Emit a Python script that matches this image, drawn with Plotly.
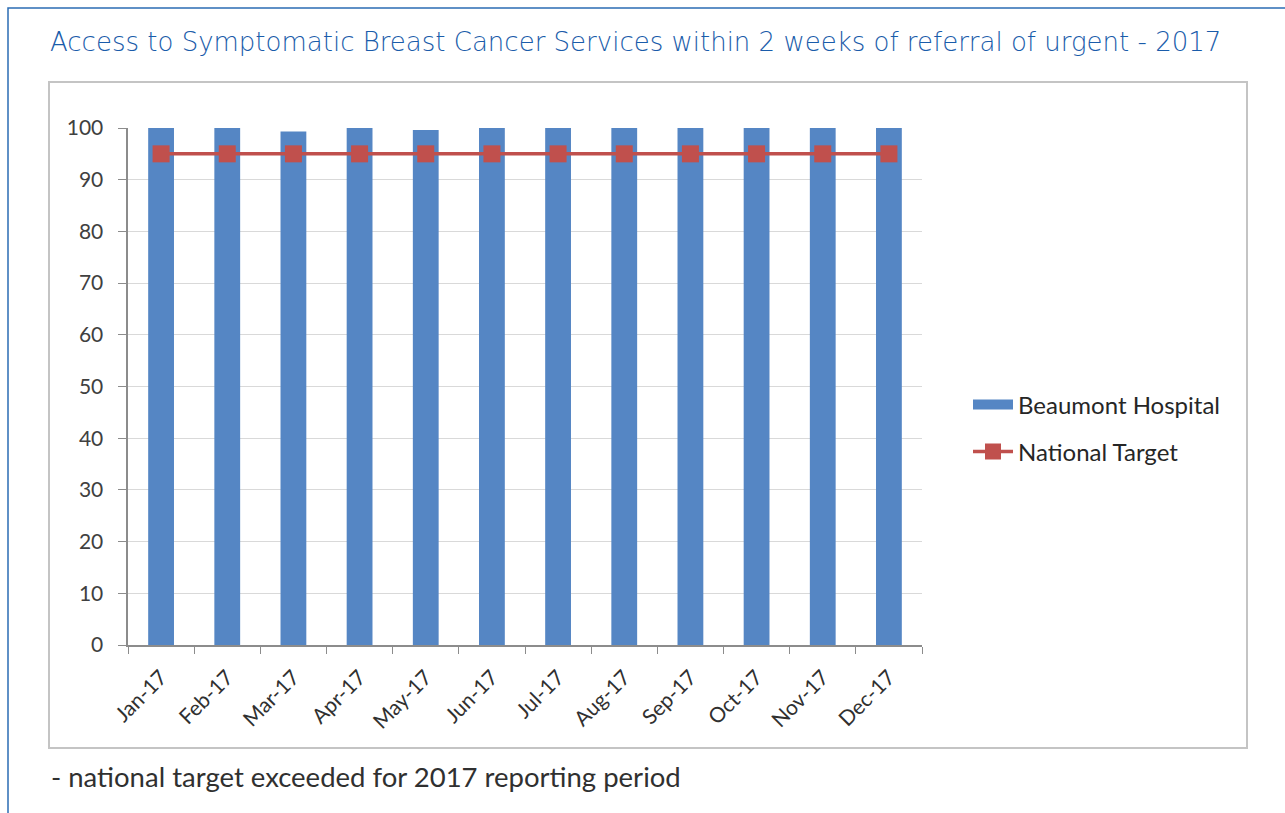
import plotly.graph_objects as go

months = ["Jan-17", "Feb-17", "Mar-17", "Apr-17", "May-17", "Jun-17",
          "Jul-17", "Aug-17", "Sep-17", "Oct-17", "Nov-17", "Dec-17"]
beaumont = [100, 100, 99.3, 100, 99.6, 100, 100, 100, 100, 100, 100, 100]
target = [95] * 12

W, H = 1285, 813
L, R, T, B = 128, 922, 128, 645  # plot area pixel edges
BLUE = "#5586c4"
RED = "#c0504d"


def px(x):
    return (x - L) / (R - L)


def py(y):
    return (B - y) / (B - T)


fig = go.Figure()
fig.add_trace(go.Bar(x=months, y=beaumont, name="Beaumont Hospital", showlegend=False,
                     marker=dict(color=BLUE, line=dict(width=0)), width=0.39))
# legend proxy for the bars (wide rectangle swatch)
fig.add_trace(go.Scatter(x=[None], y=[None], mode="lines", name="Beaumont Hospital",
                         line=dict(color=BLUE, width=13), legend="legend"))
fig.add_trace(go.Scatter(x=months, y=target, name="National Target", mode="lines+markers",
                         line=dict(color=RED, width=3.5), legend="legend2",
                         marker=dict(symbol="square", size=17, color=RED)))

legend_common = dict(xanchor="left", yanchor="middle",
                     font=dict(size=24, color="#262626", family="Lato, sans-serif"),
                     bgcolor="rgba(0,0,0,0)", itemwidth=40)

fig.update_layout(
    width=W, height=H,
    margin=dict(l=L, r=W - R, t=T, b=H - B, pad=0),
    paper_bgcolor="white", plot_bgcolor="white",
    font=dict(family="Lato, Open Sans, sans-serif", color="#404040"),
    showlegend=True,
    legend=dict(x=px(968), y=py(405), **legend_common),
    legend2=dict(x=px(968), y=py(452), **legend_common),
    xaxis=dict(type="category", tickangle=-45, tickfont=dict(size=21, color="#303030"),
               showline=True, linecolor="#8c8c8c", linewidth=1.5,
               ticks="outside", ticklen=7, tickcolor="#8c8c8c", tickson="boundaries",
               ticklabelstandoff=10,
               showgrid=False, range=[-0.5, 11.5]),
    yaxis=dict(range=[0, 100], dtick=10, tickfont=dict(size=21, color="#404040"),
               showline=True, linecolor="#8c8c8c", linewidth=1.5,
               ticks="outside", ticklen=8, tickcolor="#8c8c8c",
               showgrid=True, gridcolor="#d9d9d9", gridwidth=1.2, zeroline=False,
               ticksuffix="  "),
    title=dict(text="Access to Symptomatic Breast Cancer Services within 2 weeks of referral of urgent - 2017",
               font=dict(family="DejaVu Sans, sans-serif", size=26, color="#1a5caa", weight=300),
               x=50 / W, xanchor="left", xref="container", y=1 - 42 / H, yanchor="middle",
               yref="container"),
)

# outer blue frame
fig.add_shape(type="rect", xref="paper", yref="paper",
              x0=px(8), x1=px(1300), y0=py(8), y1=py(830),
              line=dict(color="#2b6cb4", width=1.5), layer="below")
# inner grey chart frame
fig.add_shape(type="rect", xref="paper", yref="paper",
              x0=px(49), x1=px(1247), y0=py(82), y1=py(748),
              line=dict(color="#c4c4c4", width=2), layer="below")

fig.add_annotation(text="- national target exceeded for 2017 reporting period",
                   xref="paper", yref="paper", x=px(49), y=py(776),
                   xanchor="left", yanchor="middle", showarrow=False,
                   font=dict(family="Lato, Open Sans, sans-serif", size=27.5, color="#303030"))

fig.write_html("out.html")
